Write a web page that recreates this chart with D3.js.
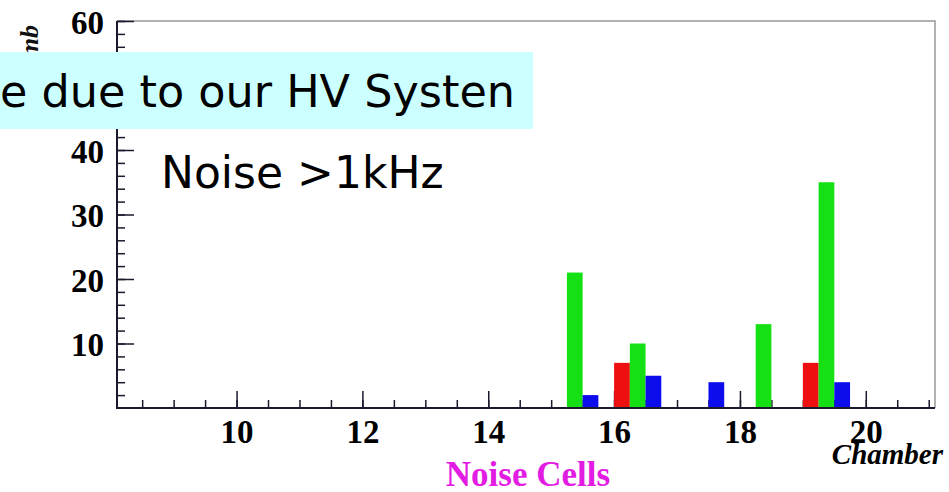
<!DOCTYPE html>
<html>
<head>
<meta charset="utf-8">
<script src="https://cdn.jsdelivr.net/npm/d3@7"></script>
<style>
  body { margin: 0; background: #fff; }
  svg { display: block; }
</style>
</head>
<body>
<div id="chart"></div>
<script>
// chamber numbers and noisy cell counts per layer (red / green / blue)
var chambers = [9, 10, 11, 12, 13, 14, 15, 16, 17, 18, 19, 20];
var redCounts = [0, 0, 0, 0, 0, 0, 0, 7, 0, 0, 7, 0];
var greenCounts = [0, 0, 0, 0, 0, 0, 21, 10, 0, 13, 35, 0];
var blueCounts = [0, 0, 0, 0, 0, 0, 2, 5, 4, 0, 4, 0];
var seriesColors = ["#ee1010", "#14e014", "#0c0cec"];
var xTickLabels = [10, 12, 14, 16, 18, 20];
var yTickLabels = [10, 20, 30, 40, 50, 60];

var width = 949, height = 492;
var plot = { left: 117, right: 935, top: 21, bottom: 408 };

var svg = d3.select("#chart").append("svg")
    .attr("width", width)
    .attr("height", height);

svg.append("rect").attr("width", width).attr("height", height).attr("fill", "#fff");

var x = d3.scaleLinear().domain([8.1, 21.1]).range([plot.left, plot.right]);
var y = d3.scaleLinear().domain([0, 60]).range([plot.bottom, plot.top]);

// frame top / right
svg.append("path")
    .attr("d", "M" + plot.left + "," + plot.top + "H" + plot.right + "V" + plot.bottom)
    .attr("fill", "none")
    .attr("stroke", "#999")
    .attr("stroke-width", 1.5);

// y axis title (mostly hidden behind the box)
svg.append("text")
    .attr("transform", "translate(38,25) rotate(-90)")
    .attr("text-anchor", "end")
    .attr("font-family", "Liberation Serif, serif")
    .attr("font-weight", "bold")
    .attr("font-style", "italic")
    .attr("font-size", "26px")
    .attr("fill", "#111")
    .text("Numb");

// minor ticks
svg.append("g")
    .attr("transform", "translate(0," + plot.bottom + ")")
    .call(d3.axisBottom(x).tickValues(d3.range(8.5, 21.01, 0.5)).tickSize(-8).tickFormat(""))
    .call(g => g.select(".domain").remove())
    .selectAll("line").attr("stroke", "#1a1a2e").attr("stroke-width", 1.5);

svg.append("g")
    .attr("transform", "translate(" + plot.left + ",0)")
    .call(d3.axisLeft(y).tickValues(d3.range(2, 60.01, 2)).tickSize(-8).tickFormat(""))
    .call(g => g.select(".domain").remove())
    .selectAll("line").attr("stroke", "#1a1a2e").attr("stroke-width", 1.5);

// major ticks + labels
var xAx = svg.append("g")
    .attr("transform", "translate(0," + plot.bottom + ")")
    .call(d3.axisBottom(x).tickValues(xTickLabels).tickSize(-17));
xAx.select(".domain").remove();
xAx.selectAll("line").attr("stroke", "#1a1a2e").attr("stroke-width", 1.5);
xAx.selectAll("text")
    .attr("y", 35).attr("dy", null)
    .attr("font-family", "Liberation Serif, serif")
    .attr("font-weight", "bold")
    .attr("font-size", "33px")
    .attr("fill", "#000");

// the 50 label sits behind the annotation box
var yAx = svg.append("g")
    .attr("transform", "translate(" + plot.left + ",0)")
    .call(d3.axisLeft(y).tickValues(yTickLabels).tickSize(-17)
        .tickFormat(d => d === 50 ? "" : d));
yAx.select(".domain").remove();
yAx.selectAll("line").attr("stroke", "#1a1a2e").attr("stroke-width", 1.5);
yAx.selectAll("text")
    .attr("x", -13).attr("dy", "0.37em")
    .attr("font-family", "Liberation Serif, serif")
    .attr("font-weight", "bold")
    .attr("font-size", "33px")
    .attr("fill", "#000");

// bars: each chamber has three quarter-width bins
var bars = [];
[redCounts, greenCounts, blueCounts].forEach(function(counts, k) {
    chambers.forEach(function(c, i) {
        if (counts[i] > 0) bars.push({ c: c, k: k, v: counts[i] });
    });
});

svg.append("g").selectAll("rect")
    .data(bars)
    .enter().append("rect")
    .attr("x", d => x(d.c + d.k * 0.25))
    .attr("width", d => x(d.c + (d.k + 1) * 0.25) - x(d.c + d.k * 0.25))
    .attr("y", d => y(d.v))
    .attr("height", d => y(0) - y(d.v))
    .attr("fill", d => seriesColors[d.k]);

// axis lines
svg.append("path")
    .attr("d", "M" + plot.left + "," + plot.top + "V" + plot.bottom + "H" + plot.right)
    .attr("fill", "none")
    .attr("stroke", "#1a1a2e")
    .attr("stroke-width", 2);

// axis titles
svg.append("text")
    .attr("x", 528).attr("y", 486)
    .attr("text-anchor", "middle")
    .attr("font-family", "Liberation Serif, serif")
    .attr("font-weight", "bold")
    .attr("font-size", "35px")
    .attr("fill", "#e31ce3")
    .text("Noise Cells");

svg.append("text")
    .attr("x", 943).attr("y", 464)
    .attr("text-anchor", "end")
    .attr("font-family", "Liberation Serif, serif")
    .attr("font-weight", "bold")
    .attr("font-style", "italic")
    .attr("font-size", "29px")
    .attr("fill", "#000")
    .text("Chamber");

// annotation box
svg.append("rect")
    .attr("x", 0).attr("y", 52)
    .attr("width", 533).attr("height", 77)
    .attr("fill", "#ccffff");

svg.append("text")
    .attr("x", 515).attr("y", 107)
    .attr("text-anchor", "end")
    .attr("font-family", "DejaVu Sans, sans-serif")
    .attr("font-size", "44.5px")
    .attr("fill", "#000")
    .text("e due to our HV Systen");

svg.append("text")
    .attr("x", 161).attr("y", 188)
    .attr("font-family", "DejaVu Sans, sans-serif")
    .attr("font-size", "44px")
    .attr("fill", "#000")
    .text("Noise >1kHz");
</script>
</body>
</html>
